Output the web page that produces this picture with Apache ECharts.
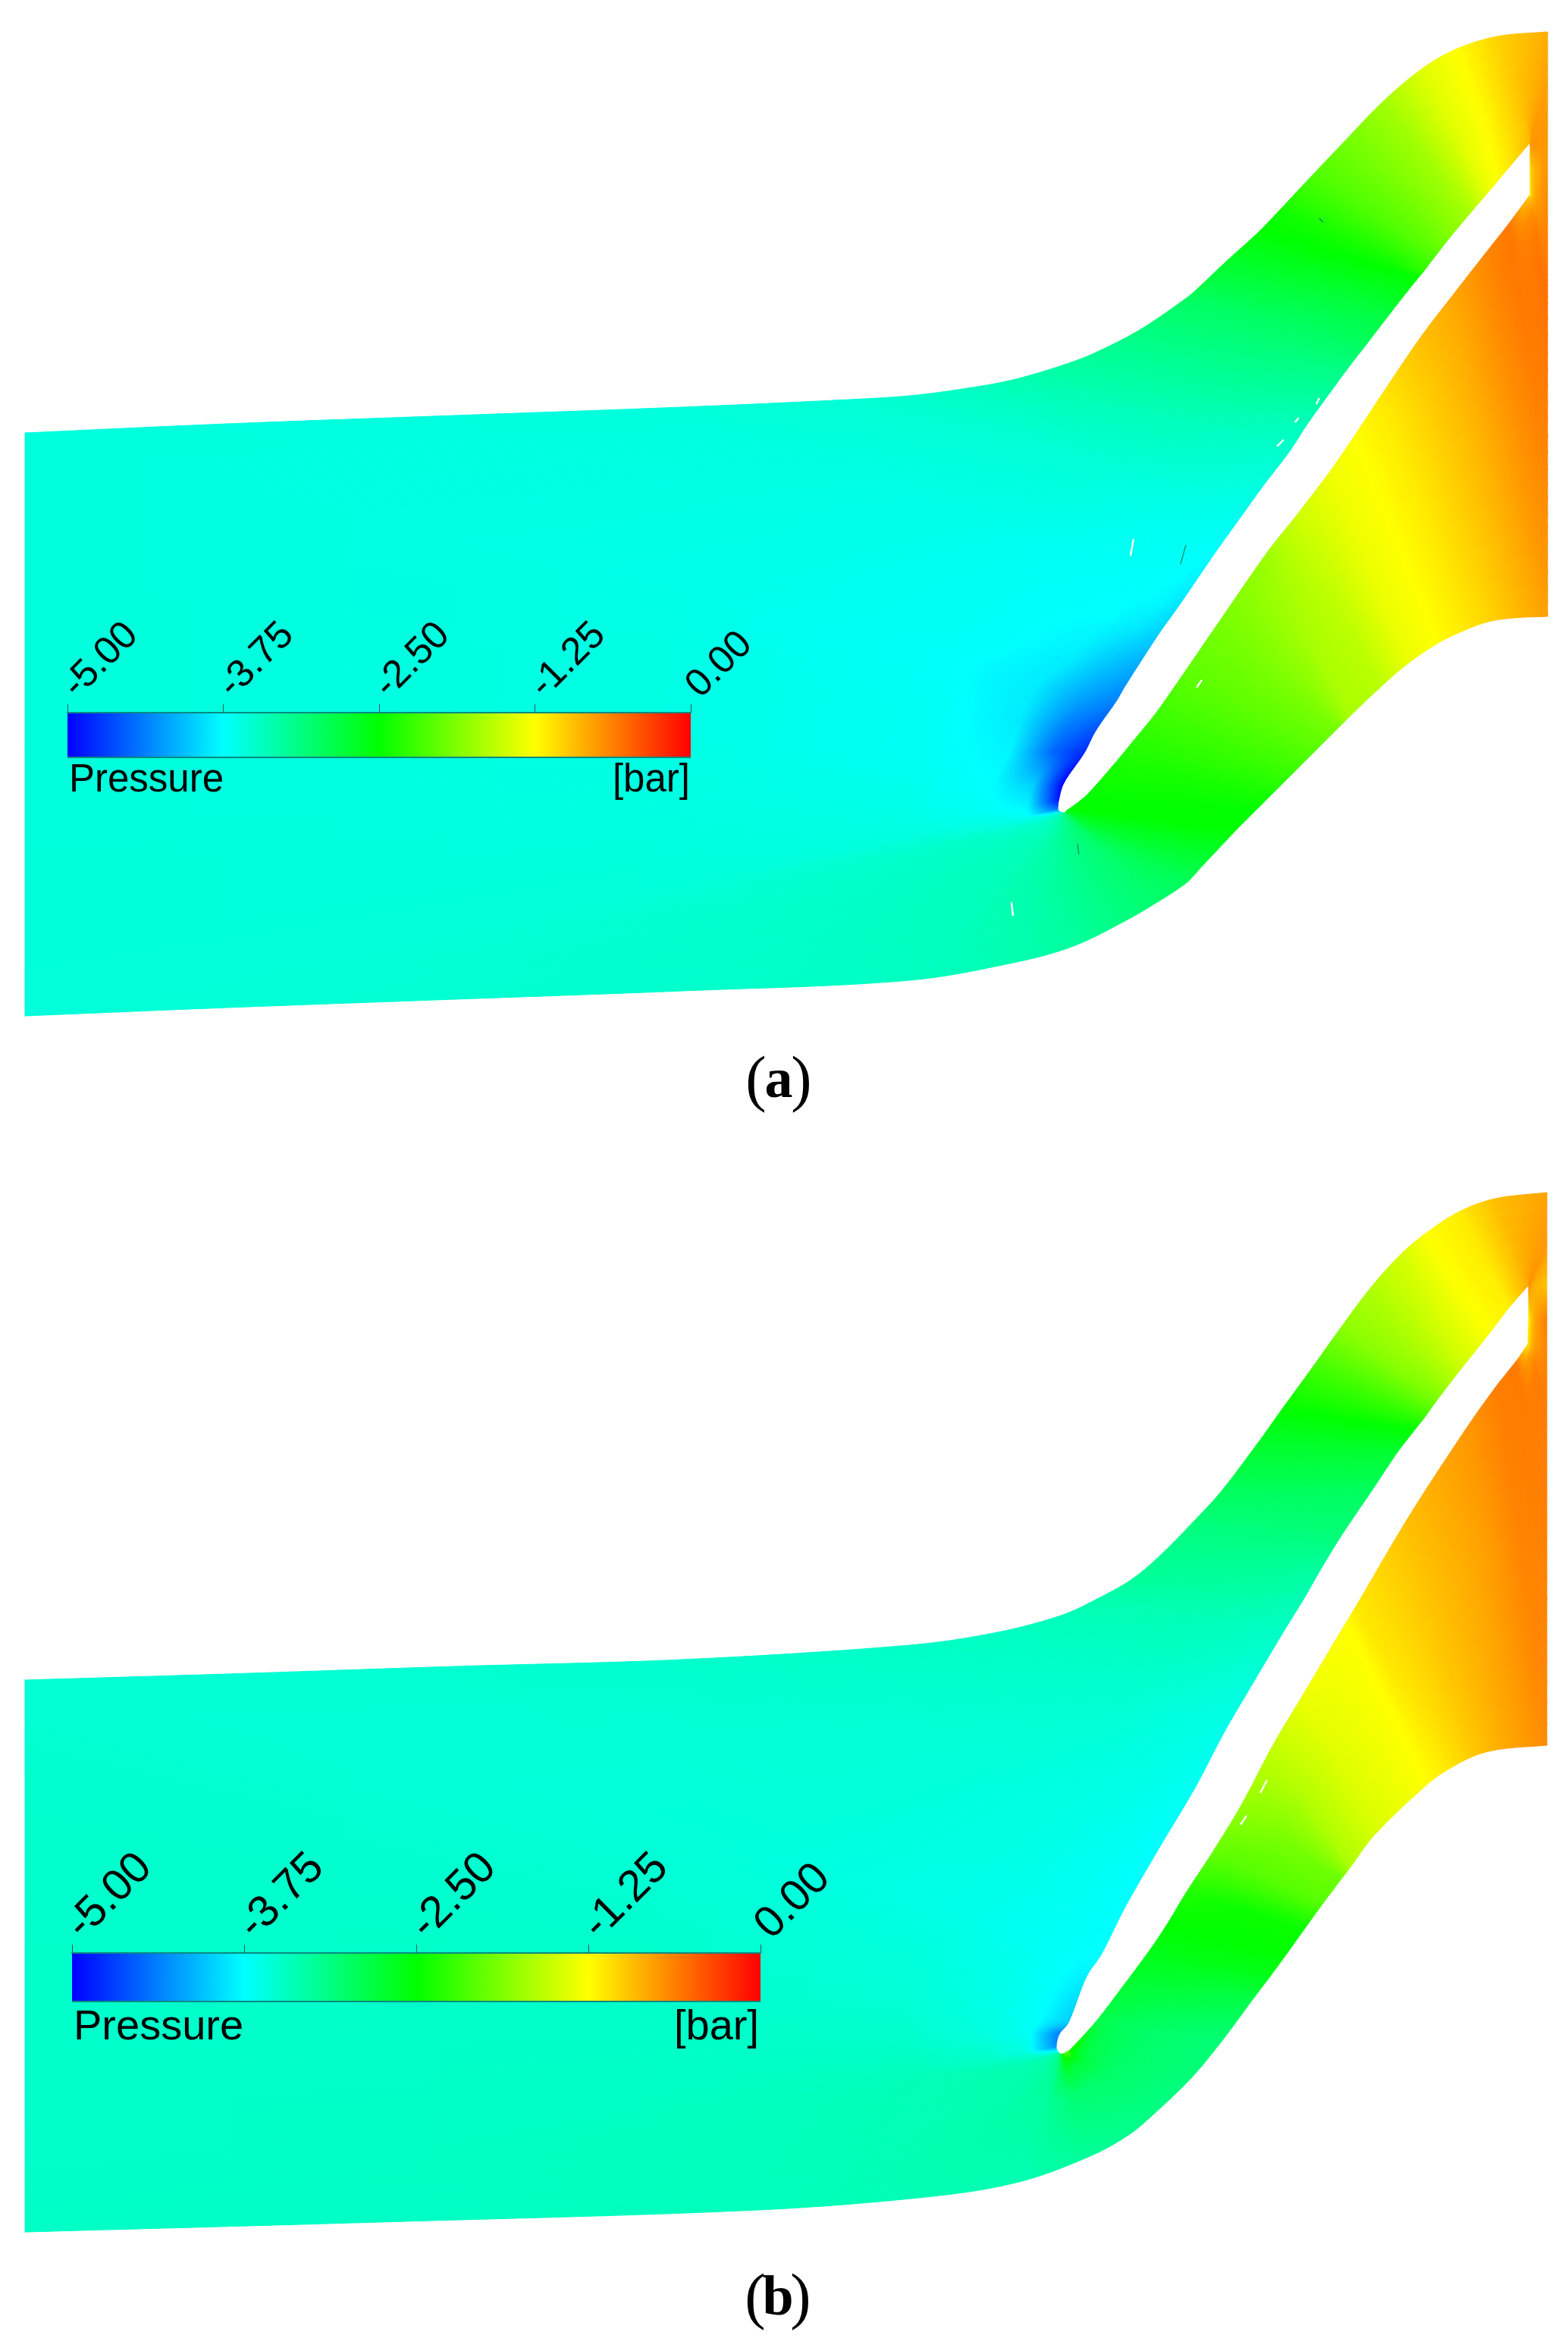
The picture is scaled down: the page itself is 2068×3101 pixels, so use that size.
<!DOCTYPE html>
<html>
<head>
<meta charset="utf-8">
<title>Pressure</title>
<style>
  html, body { margin: 0; padding: 0; background: #fff; }
  #main { width: 2068px; height: 3101px; }
</style>
<script src="https://cdn.jsdelivr.net/npm/echarts@6/dist/echarts.min.js"></script>
</head>
<body>
<div id="main"></div>
<script>
// colour bar
const tickValues = [-5, -3.75, -2.5, -1.25, 0];
const tickColors = [[0, 0, 255], [0, 255, 255], [0, 255, 0], [255, 255, 0], [255, 0, 0]];

// where the pressure samples sit along each blade -> boundary ray
const rayFractions = [0, 0.03, 0.07, 0.15, 0.4, 1];

// (a) blade surface points, boundary points, pressure [bar] along each ray
const aInner = [[2018,188],[2018,188],[1990,221],[1964,252],[1940,280],[1914,311],[1892,339],[1876,360],[1870,367],[1850,392],
  [1826,423],[1803,453],[1779,484],[1751,522],[1723,561],[1701,595],[1665,642],[1637,681],[1604,727],[1554,800],
  [1529,835],[1485,903],[1472,925],[1445,964],[1430,993],[1403,1033],[1396,1057],[1395,1068],[1400,1072],[1401,1072],
  [1401,1072],[1402,1072],[1402,1072],[1403,1072],[1404,1072],[1405,1071],[1406,1070],[1408,1068],[1410,1067],[1432,1050],
  [1472,1005],[1495,977],[1525,940],[1560,890],[1606,823],[1671,729],[1709,681],[1754,622],[1787,574],[1826,515],
  [1875,443],[1914,392],[1964,328],[1990,295],[2018,257],[2018,257],[2018,222],[2018,188],[2018,188],[2018,188]];
const aOuter = [[2041,42],[1975,48],[1920,65],[1875,91],[1823,135],[1770,190],[1732,230],[1687,278],[1660,306],[1615,347],
  [1577,383],[1565,393],[1510,431],[1466,455],[1421,475],[1344,499],[1289,510],[1200,522],[1100,528],[900,537],
  [600,548],[300,559],[33,571],[33,763],[33,955],[33,1150],[33,1250],[33,1340],[300,1329],[600,1318],
  [900,1307],[1200,1293],[1345,1268],[1418,1247],[1487,1213],[1518,1195],[1564,1165],[1583,1145],[1632,1093],[1660,1065],
  [1675,1050],[1690,1035],[1710,1015],[1740,985],[1766,959],[1780,945],[1820,907],[1857,875],[1897,848],[1930,832],
  [1963,820],[1997,815],[2041,813],[2041,620],[2041,400],[2041,257],[2041,222],[2041,188],[2041,115],[2041,42]];
const aField = [
  [-.85,-.8,-.78,-.78,-.82,-.85],[-.88,-.9,-.92,-.95,-.98,-1.03],[-1.15,-1.15,-1.16,-1.18,-1.22,-1.25],[-1.33,-1.33,-1.34,-1.35,-1.38,-1.4],
  [-1.67,-1.67,-1.68,-1.68,-1.7,-1.72],[-1.85,-1.86,-1.87,-1.9,-1.93,-1.96],[-2.1,-2.1,-2.1,-2.11,-2.12,-2.12],[-2.3,-2.32,-2.34,-2.38,-2.4,-2.42],
  [-2.48,-2.5,-2.5,-2.5,-2.5,-2.52],[-2.65,-2.66,-2.66,-2.68,-2.7,-2.72],[-2.83,-2.84,-2.85,-2.86,-2.88,-2.9],[-2.95,-2.95,-2.95,-2.96,-2.97,-2.98],
  [-3.13,-3.13,-3.13,-3.12,-3.11,-3.1],[-3.27,-3.27,-3.26,-3.25,-3.22,-3.2],[-3.42,-3.41,-3.4,-3.38,-3.32,-3.27],[-3.5,-3.5,-3.49,-3.47,-3.42,-3.36],
  [-3.6,-3.59,-3.58,-3.55,-3.49,-3.43],[-3.67,-3.66,-3.64,-3.62,-3.56,-3.5],[-3.74,-3.72,-3.7,-3.68,-3.6,-3.54],[-3.88,-3.78,-3.74,-3.72,-3.66,-3.57],
  [-3.97,-3.85,-3.76,-3.72,-3.65,-3.58],[-4.26,-4.1,-3.85,-3.72,-3.65,-3.58],[-4.36,-4.17,-3.85,-3.73,-3.64,-3.58],[-4.6,-4.36,-3.85,-3.7,-3.62,-3.58],
  [-4.8,-4.5,-3.8,-3.7,-3.62,-3.58],[-5,-3.97,-3.75,-3.65,-3.6,-3.57],[-4.9,-3.8,-3.7,-3.62,-3.58,-3.57],[-4.4,-3.72,-3.62,-3.58,-3.57,-3.56],
  [-3.65,-3.62,-3.6,-3.52,-3.53,-3.55],[-3.58,-3.58,-3.55,-3.48,-3.5,-3.53],[-3.45,-3.5,-3.5,-3.45,-3.47,-3.51],[-3.4,-3.42,-3.42,-3.4,-3.4,-3.45],
  [-3.3,-3.3,-3.3,-3.3,-3.32,-3.36],[-3.2,-3.2,-3.2,-3.2,-3.22,-3.28],[-3.1,-3.1,-3.1,-3.1,-3.1,-3.12],[-2.9,-2.92,-2.96,-3,-3.05,-3.05],
  [-2.7,-2.72,-2.75,-2.75,-2.85,-2.95],[-2.6,-2.6,-2.6,-2.65,-2.72,-2.82],[-2.5,-2.5,-2.5,-2.5,-2.5,-2.5],[-2.48,-2.48,-2.48,-2.48,-2.48,-2.48],
  [-2.38,-2.38,-2.38,-2.38,-2.4,-2.4],[-2.3,-2.3,-2.3,-2.3,-2.3,-2.32],[-2.2,-2.2,-2.2,-2.2,-2.2,-2.2],[-2.05,-2.05,-2.05,-2.05,-2.05,-2.05],
  [-1.92,-1.92,-1.92,-1.92,-1.9,-1.9],[-1.72,-1.72,-1.72,-1.7,-1.68,-1.67],[-1.5,-1.5,-1.5,-1.52,-1.55,-1.6],[-1.32,-1.32,-1.32,-1.33,-1.34,-1.35],
  [-1.25,-1.25,-1.25,-1.25,-1.25,-1.25],[-1.12,-1.12,-1.13,-1.14,-1.15,-1.15],[-.93,-.94,-.95,-.97,-1,-1.05],[-.83,-.83,-.84,-.85,-.88,-.93],
  [-.65,-.65,-.65,-.66,-.7,-.78],[-.58,-.58,-.58,-.58,-.6,-.66],[-1,-.95,-.85,-.7,-.58,-.55],[-1.2,-1.15,-1.1,-.95,-.8,-.68],
  [-1.12,-1.1,-1.05,-.95,-.85,-.72],[-.8,-.75,-.72,-.72,-.72,-.75],[-.8,-.78,-.76,-.75,-.75,-.78],[-.85,-.8,-.78,-.78,-.82,-.85]
];

// (b) same layout
const bInner = [[2016,1695],[2016,1695],[1990,1725],[1964,1759],[1925,1808],[1908,1830],[1892,1851],[1880,1868],[1865,1887],[1842,1917],[1810,1965],
  [1770,2024],[1743,2068],[1720,2108],[1693,2152],[1643,2236],[1615,2284],[1575,2360],[1529,2437],[1483,2517],[1453,2577],
  [1433,2607],[1409,2668],[1397,2683],[1393,2700],[1396,2708],[1397,2708],[1398,2709],[1400,2709],[1402,2709],[1404,2708],
  [1407,2706],[1410,2705],[1445,2667],[1481,2620],[1518,2570],[1540,2537],[1564,2497],[1598,2445],[1636,2383],[1680,2300],
  [1720,2233],[1776,2139],[1787,2121],[1859,1999],[1936,1881],[1976,1825],[2000,1795],[2015,1773],[2015,1773],[2016,1740],
  [2016,1695],[2016,1695],[2016,1695]];
const bOuter = [[2040,1573],[1972,1581],[1925,1598],[1880,1627],[1848,1654],[1809,1697],[1770,1749],[1730,1805],[1690,1860],[1660,1902],[1610,1968],
  [1577,2004],[1532,2050],[1493,2083],[1449,2108],[1399,2131],[1311,2154],[1200,2170],[900,2189],[600,2198],[300,2208],
  [33,2216],[33,2450],[33,2700],[33,2944],[500,2931],[1000,2915],[1230,2897],[1344,2878],[1440,2843],[1490,2815],
  [1520,2790],[1572,2740],[1613,2690],[1653,2636],[1675,2607],[1697,2577],[1722,2542],[1743,2513],[1770,2477],[1780,2464],
  [1813,2420],[1883,2353],[1913,2332],[1947,2315],[1980,2307],[2040,2302],[2040,2000],[2040,1850],[2040,1773],[2040,1740],
  [2040,1695],[2040,1640],[2040,1573]];
const bField = [
  [-.74,-.74,-.75,-.76,-.78,-.8],[-.8,-.82,-.84,-.86,-.9,-.93],[-1.18,-1.18,-1.17,-1.17,-1.16,-1.15],[-1.25,-1.25,-1.25,-1.25,-1.25,-1.25],
  [-1.52,-1.52,-1.51,-1.5,-1.47,-1.45],[-1.72,-1.72,-1.72,-1.7,-1.66,-1.63],[-1.96,-1.95,-1.94,-1.92,-1.86,-1.81],[-2.2,-2.2,-2.2,-2.2,-2.2,-2.2],[-2.5,-2.5,-2.5,-2.5,-2.5,-2.5],
  [-2.75,-2.75,-2.74,-2.73,-2.72,-2.7],[-2.95,-2.95,-2.95,-2.95,-2.95,-2.95],[-3.09,-3.09,-3.09,-3.09,-3.09,-3.09],[-3.28,-3.27,-3.26,-3.25,-3.22,-3.2],
  [-3.38,-3.37,-3.36,-3.34,-3.3,-3.25],[-3.48,-3.47,-3.46,-3.44,-3.4,-3.35],[-3.6,-3.59,-3.58,-3.55,-3.48,-3.4],[-3.65,-3.64,-3.62,-3.6,-3.52,-3.45],
  [-3.7,-3.68,-3.66,-3.63,-3.55,-3.47],[-3.75,-3.72,-3.68,-3.64,-3.57,-3.5],[-3.75,-3.72,-3.68,-3.64,-3.57,-3.52],[-3.75,-3.72,-3.7,-3.65,-3.58,-3.53],
  [-3.82,-3.72,-3.66,-3.6,-3.55,-3.53],[-4,-3.72,-3.63,-3.55,-3.5,-3.5],[-4.4,-3.7,-3.6,-3.5,-3.48,-3.5],[-4.3,-3.6,-3.48,-3.42,-3.45,-3.48],
  [-3.5,-3.45,-3.4,-3.38,-3.42,-3.47],[-3.3,-3.35,-3.36,-3.36,-3.38,-3.42],[-3.2,-3.28,-3.3,-3.32,-3.33,-3.38],[-2.9,-3.05,-3.15,-3.22,-3.28,-3.38],
  [-2.3,-2.4,-2.55,-2.7,-3.05,-3.25],[-2.1,-2.3,-2.55,-2.8,-3.03,-3.2],[-1.9,-2.2,-2.5,-2.75,-3,-3.15],[-2.4,-2.5,-2.7,-2.85,-3,-3.1],
  [-2.85,-2.87,-2.9,-2.93,-3,-3.07],[-2.75,-2.76,-2.77,-2.78,-2.8,-2.85],[-2.6,-2.6,-2.6,-2.6,-2.6,-2.62],[-2.5,-2.5,-2.5,-2.5,-2.5,-2.5],
  [-2.35,-2.36,-2.38,-2.4,-2.45,-2.45],[-2,-2.02,-2.05,-2.07,-2.08,-2.1],[-1.77,-1.78,-1.8,-1.83,-1.9,-1.96],[-1.52,-1.53,-1.54,-1.56,-1.62,-1.67],
  [-1.32,-1.33,-1.34,-1.36,-1.4,-1.45],[-1.25,-1.25,-1.25,-1.25,-1.25,-1.25],[-1.15,-1.15,-1.15,-1.14,-1.14,-1.13],[-.93,-.93,-.93,-.94,-.95,-.97],
  [-.74,-.74,-.75,-.76,-.8,-.85],[-.62,-.62,-.62,-.63,-.65,-.68],[-.6,-.6,-.6,-.6,-.61,-.62],[-1.15,-1.1,-1,-.8,-.62,-.6],
  [-1.2,-1.15,-1.1,-.95,-.78,-.65],[-1.25,-1.2,-1.15,-1,-.8,-.6],[-.65,-.68,-.72,-.8,-.9,-.95],[-.7,-.7,-.72,-.72,-.74,-.75],
  [-.74,-.74,-.75,-.76,-.78,-.8]
];

// thin mesh slits in the field: x1, y1, x2, y2, white (0) or dark (1)
const slits = [
  [1740,525,1736,533,0],[1713,551,1708,557,0],[1693,580,1684,589,0],[1495,711,1491,733,0],[1564,719,1557,744,1],
  [1740,288,1745,293,1],[1585,897,1578,907,0],[1421,1113,1423,1127,1],[1334,1190,1336,1208,0],
  [1671,2348,1662,2365,0],[1644,2395,1636,2407,0]
];

const meshes = [
  { inner: aInner, outer: aOuter, field: aField },
  { inner: bInner, outer: bOuter, field: bField }
];

function pressureColor(p) {
  const t = Math.min(Math.max((p - tickValues[0]) / 1.25, 0), 3.9999);
  const i = Math.floor(t), k = t - i;
  const c0 = tickColors[i], c1 = tickColors[i + 1];
  return 'rgb(' + c0.map((v, n) => Math.round(v + (c1[n] - v) * k)).join(',') + ')';
}

function lerp(a, b, k) { return a + (b - a) * k; }
function dist(a, b) { return Math.hypot(a[0] - b[0], a[1] - b[1]); }

// direction of the outline at point i; keeps real corners sharp
function outlineDir(list, i, chord) {
  const prev = list[i - 1], cur = list[i], next = list[i + 1];
  if (!prev || !next || dist(prev, cur) < 1 || dist(cur, next) < 1) return chord;
  const a = [cur[0] - prev[0], cur[1] - prev[1]];
  const b = [next[0] - cur[0], next[1] - cur[1]];
  const cos = (a[0] * b[0] + a[1] * b[1]) / (dist(prev, cur) * dist(cur, next));
  if (cos < 0.75) return chord;
  const d = dist(prev, next);
  return [(next[0] - prev[0]) / d, (next[1] - prev[1]) / d];
}

// outline between two neighbouring read points, curved like the drawn boundary
function outlineAt(list, s, u) {
  const a = list[s], b = list[s + 1], len = dist(a, b);
  if (len < 1) return a;
  const chord = [(b[0] - a[0]) / len, (b[1] - a[1]) / len];
  const d0 = outlineDir(list, s, chord), d1 = outlineDir(list, s + 1, chord);
  const u2 = u * u, u3 = u2 * u;
  const h00 = 2 * u3 - 3 * u2 + 1, h10 = u3 - 2 * u2 + u, h01 = -2 * u3 + 3 * u2, h11 = u3 - u2;
  return [0, 1].map(n => h00 * a[n] + h10 * len * d0[n] + h01 * b[n] + h11 * len * d1[n]);
}

// one mesh cell, shaded smoothly from the pressure at its four corners
function renderCell(params, api) {
  const m = meshes[api.value(0)], s = api.value(1), r = api.value(2);
  const f0 = rayFractions[r], f1 = rayFractions[r + 1];
  const corner = (si, ri) => {
    const f = rayFractions[ri], a = m.inner[si], b = m.outer[si];
    return [lerp(a[0], b[0], f), lerp(a[1], b[1], f)];
  };
  const P = [corner(s, r), corner(s + 1, r), corner(s + 1, r + 1), corner(s, r + 1)];
  const V = [m.field[s][r], m.field[s + 1][r], m.field[s + 1][r + 1], m.field[s][r + 1]];
  const lenU = Math.max(dist(P[0], P[1]), dist(P[3], P[2]));
  const lenV = Math.max(dist(P[0], P[3]), dist(P[1], P[2]));
  const dU = Math.max(Math.abs(V[0] - V[1]), Math.abs(V[3] - V[2]));
  const dV = Math.max(Math.abs(V[0] - V[3]), Math.abs(V[1] - V[2]));
  const nu = Math.max(1, Math.ceil(lenU / 30), Math.min(Math.ceil(lenU / 3), Math.ceil(dU / 0.012)));
  const nv = Math.max(1, Math.min(Math.ceil(lenV / 3), Math.ceil(dV / 0.012)));
  const at = (u, v) => {
    const a = outlineAt(m.inner, s, u), b = outlineAt(m.outer, s, u);
    const f = lerp(f0, f1, v);
    return api.coord([lerp(a[0], b[0], f), lerp(a[1], b[1], f)]);
  };
  const children = [];
  for (let i = 0; i < nu; i++) {
    for (let j = 0; j < nv; j++) {
      const u0 = i / nu, u1 = (i + 1) / nu, v0 = j / nv, v1 = (j + 1) / nv;
      const um = (u0 + u1) / 2, vm = (v0 + v1) / 2;
      const c = pressureColor(lerp(lerp(V[0], V[1], um), lerp(V[3], V[2], um), vm));
      children.push({
        type: 'polygon',
        shape: { points: [at(u0, v0), at(u1, v0), at(u1, v1), at(u0, v1)] },
        style: { fill: c, stroke: c, lineWidth: 1 }
      });
    }
  }
  return { type: 'group', children: children };
}

function renderSlit(params, api) {
  const a = api.coord([api.value(0), api.value(1)]);
  const b = api.coord([api.value(2), api.value(3)]);
  return {
    type: 'line',
    shape: { x1: a[0], y1: a[1], x2: b[0], y2: b[1] },
    style: api.value(4) ? { stroke: '#0b8a5c', lineWidth: 1.2 } : { stroke: '#ffffff', lineWidth: 2.4 }
  };
}

function renderBar(params, api) {
  const a = api.coord([tickValues[0], 1]);
  const b = api.coord([tickValues[4], 0]);
  return {
    type: 'group',
    children: [
      {
        type: 'rect',
        shape: { x: a[0], y: a[1], width: b[0] - a[0], height: b[1] - a[1] },
        style: {
          fill: new echarts.graphic.LinearGradient(0, 0, 1, 0, tickColors.map((c, i) => ({
            offset: i / 4,
            color: 'rgb(' + c.join(',') + ')'
          })))
        }
      },
      {
        type: 'rect',
        shape: { x: a[0], y: b[1] - 1, width: b[0] - a[0], height: 2 },
        style: { fill: '#0b8a80' }
      }
    ]
  };
}

const cellData = [];
meshes.forEach((m, mi) => {
  for (let s = 0; s < m.inner.length - 1; s++) {
    for (let r = 0; r < rayFractions.length - 1; r++) {
      cellData.push([mi, s, r]);
    }
  }
});

function barAxis(gridIndex, size) {
  return {
    type: 'value',
    gridIndex: gridIndex,
    position: 'top',
    z: 10,
    min: -5,
    max: 0,
    interval: 1.25,
    splitLine: { show: false },
    axisLine: { show: true, onZero: false, lineStyle: { color: '#0b8a80', width: 2 } },
    axisTick: { show: true, length: 11, lineStyle: { color: '#2c5a55', width: 1 } },
    axisLabel: {
      show: true,
      rotate: -45,
      margin: 25,
      padding: [0, 0, 10, 4],
      fontFamily: 'Liberation Sans',
      fontSize: size,
      color: '#000',
      hideOverlap: false,
      showMinLabel: true,
      showMaxLabel: true,
      formatter: v => v.toFixed(2)
    }
  };
}

function hiddenY(gridIndex) {
  return { type: 'value', gridIndex: gridIndex, min: 0, max: 1, show: false };
}

function plainText(x, y, text, size, align) {
  return {
    type: 'text',
    z: 20,
    x: x,
    y: y,
    style: { text: text, fontFamily: 'Liberation Sans', fontSize: size, fill: '#000', textAlign: align, textVerticalAlign: 'bottom' }
  };
}

function caption(x, y, letter) {
  const part = (dx, text, weight, size) => ({
    type: 'text',
    z: 20,
    x: x + dx,
    y: y,
    style: { text: text, fontFamily: 'Liberation Serif', fontSize: size, fontWeight: weight, fill: '#000', textAlign: 'center', textVerticalAlign: 'middle' }
  });
  return [part(-30, '(', 'normal', 82), part(0, letter, 'bold', 74), part(30, ')', 'normal', 82)];
}

const option = {
  animation: false,
  backgroundColor: '#ffffff',
  grid: [
    { left: 0, top: 0, width: 2068, height: 3101, outerBoundsMode: 'none' },
    { left: 89, top: 940, width: 822, height: 59, outerBoundsMode: 'none' },
    { left: 95, top: 2576, width: 908, height: 64, outerBoundsMode: 'none' }
  ],
  xAxis: [
    { type: 'value', gridIndex: 0, min: 0, max: 2068, show: false },
    barAxis(1, 51),
    barAxis(2, 58)
  ],
  yAxis: [
    { type: 'value', gridIndex: 0, min: 0, max: 3101, inverse: true, show: false },
    hiddenY(1),
    hiddenY(2)
  ],
  series: [
    {
      type: 'custom',
      name: 'pressure',
      xAxisIndex: 0,
      yAxisIndex: 0,
      silent: true,
      clip: false,
      progressive: 0,
      z: 1,
      renderItem: renderCell,
      data: cellData
    },
    {
      type: 'custom',
      name: 'slits',
      xAxisIndex: 0,
      yAxisIndex: 0,
      silent: true,
      z: 2,
      renderItem: renderSlit,
      data: slits
    },
    {
      type: 'custom',
      name: 'bar a',
      xAxisIndex: 1,
      yAxisIndex: 1,
      silent: true,
      z: 3,
      renderItem: renderBar,
      data: [[0]]
    },
    {
      type: 'custom',
      name: 'bar b',
      xAxisIndex: 2,
      yAxisIndex: 2,
      silent: true,
      z: 3,
      renderItem: renderBar,
      data: [[0]]
    }
  ],
  graphic: [
    plainText(91, 1055, 'Pressure', 51, 'left'),
    plainText(910, 1055, '[bar]', 51, 'right'),
    plainText(97, 2703, 'Pressure', 56, 'left'),
    plainText(1001, 2703, '[bar]', 56, 'right')
  ].concat(caption(1027, 1428, 'a'), caption(1026, 3034, 'b'))
};

const myChart = echarts.init(document.getElementById('main'), null, { renderer: 'canvas' });
myChart.setOption(option);
</script>
</body>
</html>
